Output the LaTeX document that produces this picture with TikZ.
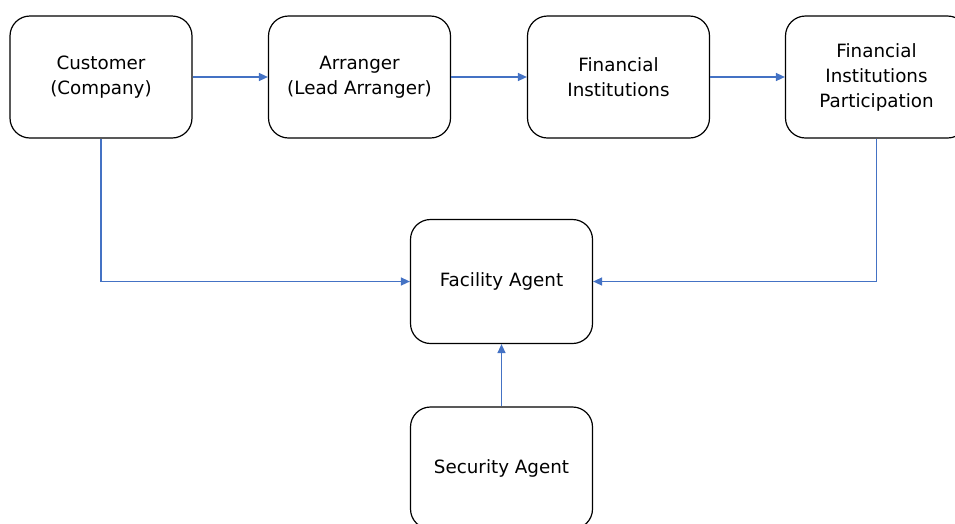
\documentclass[tikz,border=0pt]{standalone}
\usepackage{fontspec}
\setmainfont{DejaVu Sans}
\usetikzlibrary{arrows.meta}
\definecolor{linkblue}{HTML}{4472C4}
\tikzset{every path/.style={line width=1.2pt}}
\tikzset{party/.style={draw,rounded corners=20pt,minimum width=182pt,minimum height=122pt,align=center,font=\fontsize{18.3}{25}\selectfont}}
\tikzset{link/.style={draw=linkblue,line width=1.4pt,-{Triangle[length=9pt,width=8pt]},color=linkblue}}

\begin{document}
\begin{tikzpicture}[x=1pt,y=-1pt]
\useasboundingbox (0,0) rectangle (955,523);
\node[party] (cust) at (101,77) {Customer\\(Company)};
\node[party] (arr) at (359.5,77) {Arranger\\(Lead Arranger)};
\node[party] (fin) at (618.5,77) {Financial\\Institutions};
\node[party] (part) at (876.5,77) {Financial\\Institutions\\Participation};
\node[party,minimum height=124pt] (fac) at (501.5,281.5) {Facility Agent};
\node[party] (sec) at (501.5,468) {Security Agent};
\draw[link] (cust) -- (arr);
\draw[link] (arr) -- (fin);
\draw[link] (fin) -- (part);
\draw[link] (cust.south) |- (fac.west);
\draw[link] (part.south) |- (fac.east);
\draw[link] (sec) -- (fac);
\end{tikzpicture}
\end{document}
